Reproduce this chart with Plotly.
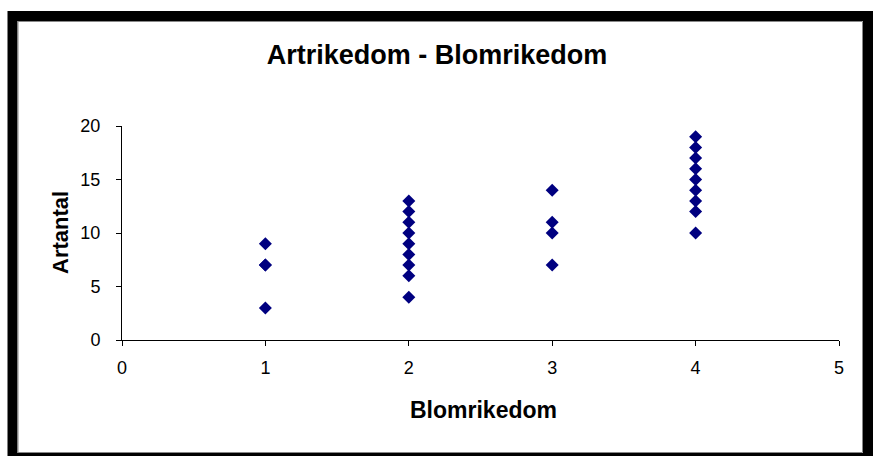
import plotly.graph_objects as go

blomrikedom = [1, 1, 1, 1,
               2, 2, 2, 2, 2, 2, 2, 2, 2,
               3, 3, 3, 3,
               4, 4, 4, 4, 4, 4, 4, 4, 4]
artantal = [3, 7, 7, 9,
            4, 6, 7, 8, 9, 10, 11, 12, 13,
            7, 10, 11, 14,
            10, 12, 13, 14, 15, 16, 17, 18, 19]

W, H = 874, 456
L, R, T, B = 122, 839, 126, 340

def px(x):
    return (x - L) / (R - L)

def py(y):
    return (B - y) / (B - T)

fig = go.Figure()
fig.add_trace(go.Scatter(
    x=blomrikedom, y=artantal, mode="markers",
    marker=dict(symbol="diamond", size=10, color="#000080"),
    showlegend=False,
))

font = "Liberation Sans, Arial, sans-serif"
fig.update_layout(
    width=W, height=H,
    margin=dict(l=L, r=W - R, t=T, b=H - B),
    paper_bgcolor="white", plot_bgcolor="white",
    font=dict(family=font, color="black", size=18),
    title=dict(text="<b>Artrikedom - Blomrikedom</b>", x=0.5, xanchor="center",
               y=1 - 55 / H, yanchor="middle", font=dict(size=27, family=font)),
    xaxis=dict(range=[0, 5], dtick=1, showgrid=False, zeroline=False,
               showline=True, linecolor="black", linewidth=1,
               ticks="outside", ticklen=5, tickcolor="black",
               ticklabelstandoff=6, tickfont=dict(size=18)),
    yaxis=dict(range=[0, 20], dtick=5, showgrid=False, zeroline=False,
               showline=True, linecolor="black", linewidth=1,
               ticks="outside", ticklen=5, tickcolor="black",
               ticklabelstandoff=12, tickfont=dict(size=18)),
    annotations=[
        dict(text="<b>Blomrikedom</b>", xref="paper", yref="paper",
             x=px(483), y=py(410), xanchor="center", yanchor="middle",
             showarrow=False, font=dict(size=23)),
        dict(text="<b>Artantal</b>", xref="paper", yref="paper",
             x=px(60), y=py(233), xanchor="center", yanchor="middle",
             textangle=-90, showarrow=False, font=dict(size=22)),
    ],
    shapes=[
        dict(type="rect", xref="paper", yref="paper",
             x0=px(12.5), x1=px(868), y0=py(16), y1=py(458),
             line=dict(color="black", width=10), fillcolor="rgba(0,0,0,0)", layer="above"),
        dict(type="rect", xref="paper", yref="paper",
             x0=px(18), x1=px(862.5), y0=py(21.5), y1=py(452.5),
             line=dict(color="#888888", width=1), fillcolor="rgba(0,0,0,0)", layer="above"),
    ],
)

fig.write_html("out.html", config={"displayModeBar": False},
               post_script="document.body.style.margin='0';")
